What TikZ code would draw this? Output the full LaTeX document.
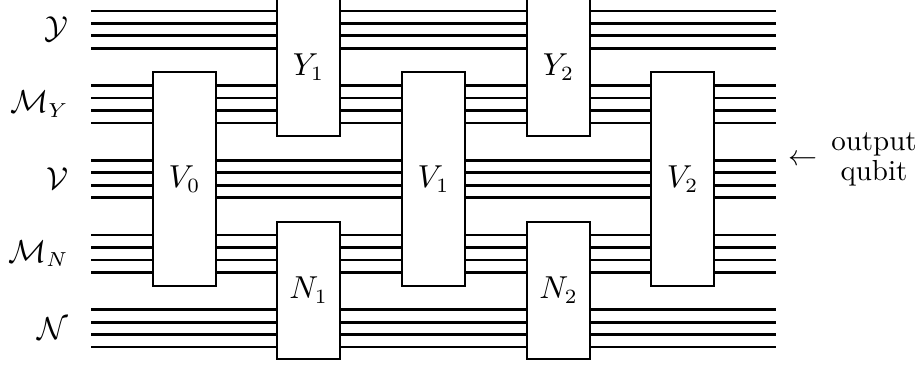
\documentclass[tikz,border=0pt]{standalone}
\begin{document}
\begin{tikzpicture}[x=0.345pt,y=-0.345pt,
  wire/.style={line width=0.95pt},
  gate/.style={draw, line width=0.95pt, fill=white},
  lbl/.style={inner sep=0pt, anchor=east, font=\fontsize{10.5}{12.6}\selectfont},
  glbl/.style={inner sep=0pt, font=\fontsize{10.5}{12.6}\selectfont}]
\useasboundingbox (0,0) rectangle (919,368);
\clip (0,0) rectangle (919,368);
% wires
\foreach \g [count=\i] in {11,85.7,160.4,235.1,309.8}{
  \foreach \k in {0,1,2,3}{
    \coordinate (s\i\k) at (91,\g+12.4*\k);
    \coordinate (e\i\k) at (776,\g+12.4*\k);
    \draw[wire] (s\i\k) -- (e\i\k);
  }
}
% V gates
\foreach \x/\n in {153/0,402/1,651/2}{
  \draw[gate] (\x,72) rectangle (\x+63,286);
  \node[glbl] (V\n) at (\x+31.5,179) {$V_\n$};
}
% Y and N gates
\foreach \x/\n in {277/1,527/2}{
  \draw[gate] (\x,-3) rectangle (\x+63,136);
  \node[glbl] (Y\n) at (\x+31.5,67) {$Y_\n$};
  \draw[gate] (\x,222) rectangle (\x+63,359);
  \node[glbl] (N\n) at (\x+31.5,290) {$N_\n$};
}
% labels
\node[lbl] (LY) at (69,29.6) {$\mathcal{Y}$};
\node[lbl] (LMY) at (69,104.3) {$\mathcal{M}_Y$};
\node[lbl] (LV) at (69,179) {$\mathcal{V}$};
\node[lbl] (LMN) at (69,253.7) {$\mathcal{M}_N$};
\node[lbl] (LN) at (69,328.4) {$\mathcal{N}$};
% output
\node[inner sep=0pt] (arr) at (803,160) {$\leftarrow$};
\node[inner sep=0pt, anchor=base] (out) at (874,150) {output};
\node[inner sep=0pt, anchor=base] (qub) at (874,180) {qubit};
\end{tikzpicture}
\end{document}
